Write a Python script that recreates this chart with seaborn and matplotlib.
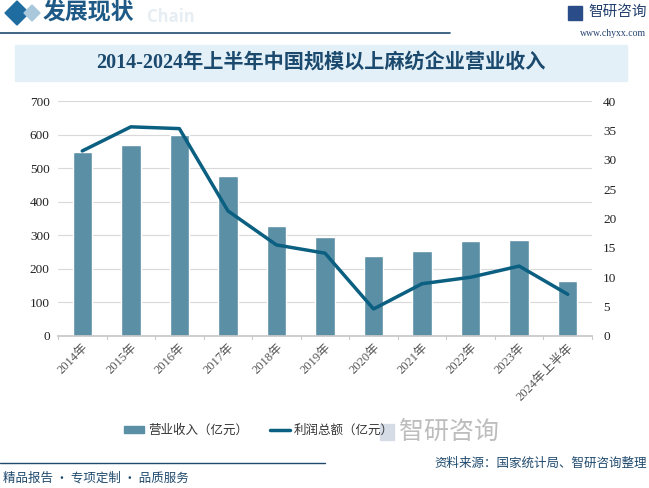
import numpy as np
import pandas as pd
import matplotlib
matplotlib.use('Agg')
import matplotlib.pyplot as plt
import seaborn as sns
from matplotlib.patches import Rectangle, Polygon
from matplotlib.lines import Line2D

# ==============================================================
# Dados
# ==============================================================
anos = ['2014年', '2015年', '2016年', '2017年', '2018年', '2019年',
        '2020年', '2021年', '2022年', '2023年', '2024年上半年']
receita = [548, 569, 600, 477, 328, 295, 238, 253, 283, 286, 164]
lucro = [31.5, 35.6, 35.3, 21.3, 15.5, 14.1, 4.6, 8.9, 10.0, 11.9, 7.1]

df = pd.DataFrame({'ano': anos, 'receita': receita, 'lucro': lucro})

cor_barra = '#5b8fa6'
cor_linha = '#0b5f80'
cor_titulo = '#1b4a6e'

sns.set_theme(style='white')
plt.rcParams['font.family'] = ['Noto Sans CJK SC', 'DejaVu Sans']
fonte_num = ['Liberation Serif', 'Noto Sans CJK SC']

fig = plt.figure(figsize=(6.49, 4.88), dpi=100)
W, H = 649, 488

def fx(px):
    return px / W

def fy(py):
    return 1 - py / H

# ==============================================================
# Cabeçalho
# ==============================================================
fig.patches.append(Polygon([[fx(5), fy(13)], [fx(17), fy(1)], [fx(29), fy(13)], [fx(17), fy(25)]],
                           closed=True, transform=fig.transFigure, color='#1f6da0'))
fig.patches.append(Polygon([[fx(24), fy(13)], [fx(32), fy(5)], [fx(40), fy(13)], [fx(32), fy(21)]],
                           closed=True, transform=fig.transFigure, color='#a9c8dc'))
fig.text(fx(147), fy(17), 'Chain', fontsize=12, fontweight='bold', color='#e6eef4',
         ha='left', va='center', family=['Open Sans', 'DejaVu Sans'])
fig.text(fx(43), fy(13), '发展现状', fontsize=16.5, fontweight='bold', color='#1f5a86',
         ha='left', va='center')
fig.add_artist(Line2D([0, fx(450)], [fy(33), fy(33)], color='#1f4a6e', lw=1.2,
                      transform=fig.transFigure))
fig.patches.append(Rectangle((fx(568), fy(20)), fx(14), 14 / H, transform=fig.transFigure,
                             color='#2a4d8a'))
fig.text(fx(588), fy(12), '智研咨询', fontsize=10.5, color='#23406e', ha='left', va='center')
fig.text(fx(646), fy(33), 'www.chyxx.com', fontsize=7, color='#23406e', ha='right', va='center',
         family=['Liberation Serif', 'DejaVu Sans'])

# caixa do título
fig.patches.append(Rectangle((fx(15), fy(81)), fx(612), 36 / H, transform=fig.transFigure,
                             color='#e4f0f8', zorder=0))
fig.text(fx(321), fy(63), '2014-2024年上半年中国规模以上麻纺企业营业收入', fontsize=14.5,
         fontweight='bold', color=cor_titulo, ha='center', va='center',
         family=['Liberation Serif', 'Noto Sans CJK SC'])

# ==============================================================
# Gráfico
# ==============================================================
ax = fig.add_axes([fx(58), fy(336), fx(592) - fx(58), (336 - 101) / H])
sns.barplot(data=df, x='ano', y='receita', color=cor_barra, width=0.4, ax=ax,
            saturation=1)
ax.set_ylim(0, 700)
ax.set_yticks(range(0, 701, 100))
ax.grid(axis='y', color='#d9d9d9', lw=0.8)
ax.set_axisbelow(True)
ax.set_xlabel('')
ax.set_ylabel('')
for s in ['top', 'right', 'left']:
    ax.spines[s].set_visible(False)
ax.spines['bottom'].set_color('#c8c8c8')
ax.set_xlim(-0.5, len(anos) - 0.5)

ax2 = ax.twinx()
sns.lineplot(data=df, x='ano', y='lucro', color=cor_linha, lw=2.5, sort=False, ax=ax2)
ax2.set_ylim(0, 40)
ax2.set_yticks(range(0, 41, 5))
ax2.set_ylabel('')
for s in ['top', 'right', 'left', 'bottom']:
    ax2.spines[s].set_visible(False)
ax2.set_xlim(-0.5, len(anos) - 0.5)

ax.tick_params(axis='y', length=0, labelsize=9.5, pad=6, colors='#222222')
ax2.tick_params(axis='y', length=0, labelsize=9.5, pad=8, colors='#222222')
ax.set_xticks(range(len(anos)))
ax.set_xticklabels(anos, rotation=45, ha='right', rotation_mode='anchor', fontsize=9,
                   color='#555555')
ax.tick_params(axis='x', length=0, pad=4)
for lab in ax.get_xticklabels() + ax.get_yticklabels() + ax2.get_yticklabels():
    lab.set_family(fonte_num)
# marcas entre categorias
for i in range(len(anos) + 1):
    ax.plot([i - 0.5, i - 0.5], [0, -0.012], transform=ax.get_xaxis_transform(),
            color='#c8c8c8', lw=0.8, clip_on=False)

fig.legend([Rectangle((0, 0), 1, 1, color=cor_barra), Line2D([0], [0], color=cor_linha, lw=2.5)],
           ['营业收入（亿元）', '利润总额（亿元）'], loc='center', bbox_to_anchor=(fx(259), fy(430)),
           ncol=2, frameon=False, fontsize=9, handlelength=1.6, handleheight=0.5,
           handletextpad=0.3, columnspacing=1.8, labelcolor='#333333')

# ==============================================================
# Rodapé
# ==============================================================
fig.patches.append(Rectangle((fx(380), fy(440)), fx(14), 16 / H, transform=fig.transFigure,
                             color='#d6dce6'))
fig.text(fx(399), fy(432), '智研咨询', fontsize=18, color='#bdbdbd', ha='left', va='center')
fig.add_artist(Line2D([0, fx(325)], [fy(463), fy(463)], color='#1f4a6e', lw=1.0,
                      transform=fig.transFigure))
fig.text(fx(3), fy(478), '精品报告 · 专项定制 · 品质服务', fontsize=9, color='#1f4a6e',
         ha='left', va='center')
fig.text(fx(647), fy(463), '资料来源：国家统计局、智研咨询整理', fontsize=9, color='#1f4a6e',
         ha='right', va='center')

fig.savefig('out.png', dpi=100)
